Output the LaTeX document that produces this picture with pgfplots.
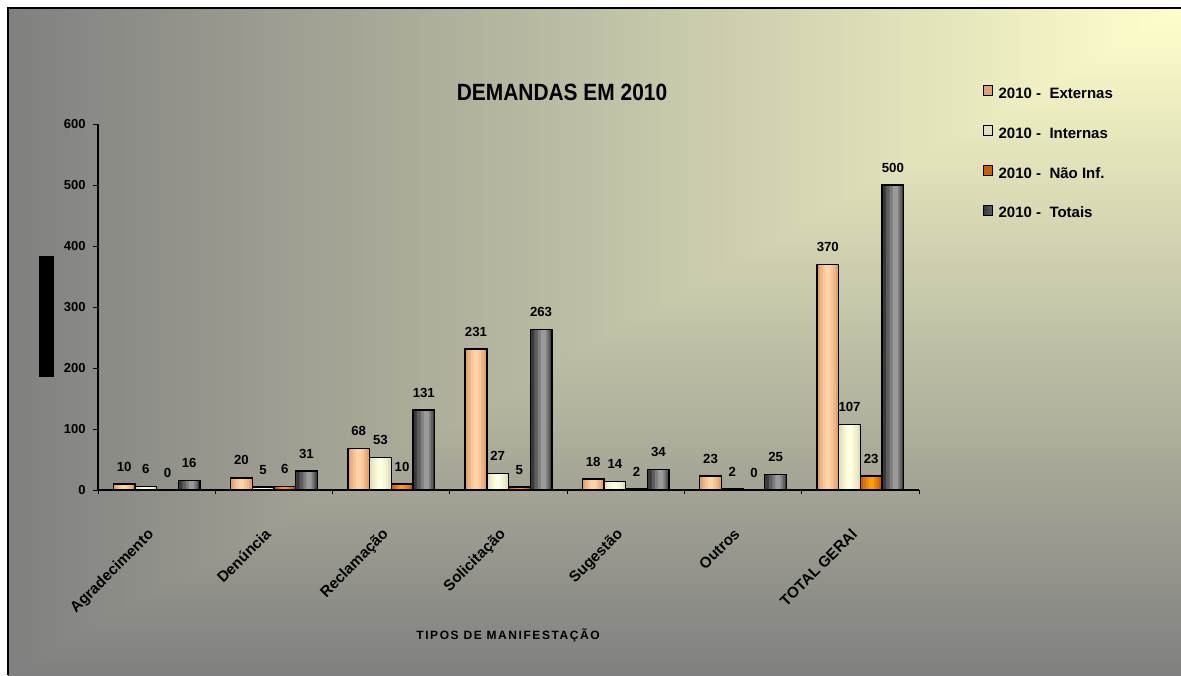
\documentclass[border=0pt]{standalone}
\usepackage{pgfplots}
\usepackage{pgfplotstable}
\pgfplotsset{compat=1.18}
\usepackage{fontspec}
\setmainfont{Liberation Sans}
\newfontfamily\titlefont{Liberation Sans}[FakeStretch=0.89]
\newfontfamily\spacedfont{Liberation Sans}[LetterSpace=13]
\definecolor{bgGray}{HTML}{808080}
\definecolor{bgLight}{HTML}{FFFFCC}
% Externas
\definecolor{extA}{HTML}{DDA272}
\definecolor{extB}{HTML}{EDB684}
\definecolor{extC}{HTML}{F9C796}
\definecolor{extD}{HTML}{FFD3A8}
% Internas
\definecolor{intA}{HTML}{E0E0BA}
\definecolor{intB}{HTML}{EEEECA}
\definecolor{intC}{HTML}{F8F8D8}
\definecolor{intD}{HTML}{FFFFE2}
% Nao Inf
\definecolor{naoA}{HTML}{C86000}
\definecolor{naoB}{HTML}{E07400}
\definecolor{naoC}{HTML}{F28800}
\definecolor{naoD}{HTML}{FF9A14}
% Totais
\definecolor{totA}{HTML}{3A3A3A}
\definecolor{totB}{HTML}{5E5E5E}
\definecolor{totC}{HTML}{7E7E7E}
\definecolor{totD}{HTML}{9A9A9A}

\pgfplotstableread{
x y
0 10
1 20
2 68
3 231
4 18
5 23
6 370
}\externas
\pgfplotstableread{
x y
0 6
1 5
2 53
3 27
4 14
5 2
6 107
}\internas
\pgfplotstableread{
x y
0 0
1 6
2 10
3 5
4 2
5 0
6 23
}\naoinf
\pgfplotstableread{
x y
0 16
1 31
2 131
3 263
4 34
5 25
6 500
}\totais

% #1 table, #2..#5 bar shifts of the layers, #6..#9 colours (edge -> centre)
\newcommand\shadedbars[9]{%
\addplot[ybar, forget plot, fill=#6, draw=none, bar width=10.85pt, bar shift=#2] table[x=x,y=y] {#1};
\addplot[ybar, forget plot, fill=#7, draw=none, bar width=8pt, bar shift=#3] table[x=x,y=y] {#1};
\addplot[ybar, forget plot, fill=#8, draw=none, bar width=5.2pt, bar shift=#4] table[x=x,y=y] {#1};
\addplot[ybar, forget plot, fill=#9, draw=none, bar width=2.6pt, bar shift=#5] table[x=x,y=y] {#1};
\addplot[ybar, forget plot, fill=none, draw=black, line width=0.7pt, bar width=10.85pt, bar shift=#2,
  nodes near coords, every node near coord/.append style={xshift=#2}] table[x=x,y=y] {#1};
}

\begin{document}
\begin{tikzpicture}
\path[use as bounding box] (0,0) rectangle (590.5pt,337.5pt);
\fill[white] (0,0) rectangle (590.5pt,337.5pt);
\shade[bottom color=bgGray, top color=bgLight] (4pt,0pt) rectangle (590.5pt,333.5pt);
\begin{scope}
\clip (4pt,333.5pt) -- (590.5pt,333.5pt) -- (4pt,0pt) -- cycle;
\shade[left color=bgGray, right color=bgLight] (4pt,0pt) rectangle (590.5pt,333.5pt);
\end{scope}
\draw[line width=1pt] (4pt,0pt) -- (4pt,333.5pt) -- (590.5pt,333.5pt);
\fill[black] (19.5pt,149pt) rectangle (27pt,209.5pt);
\begin{axis}[
  at={(49pt,92.5pt)}, anchor=south west,
  scale only axis, width=410.5pt, height=183pt,
  xmin=-0.5, xmax=6.5, ymin=0, ymax=600,
  axis lines=left, axis line style={-, line width=0.6pt},
  clip=false,
  ytick={0,100,...,600},
  xtick={0,...,6},
  xticklabels={Agradecimento,Denúncia,Reclamação,Solicitação,Sugestão,Outros,TOTAL GERAl},
  minor xtick={-0.5,0.5,1.5,2.5,3.5,4.5,5.5,6.5},
  major x tick style={draw=none},
  tick align=outside,
  major tick length=2.5pt, minor tick length=2.2pt,
  tick style={black, line width=0.5pt},
  yticklabel style={font=\bfseries\fontsize{6.5}{7}\selectfont, inner sep=0pt, xshift=-3.5pt},
  xticklabel style={font=\bfseries\fontsize{7.6}{9}\selectfont, xshift=-5pt, yshift=-16pt, rotate=45, anchor=north east, inner sep=0pt},
  /pgf/number format/assume math mode=true,
  every node near coord/.append style={font=\bfseries\fontsize{6.6}{7}\selectfont, inner sep=0pt, yshift=6pt, text=black, anchor=south},
  legend style={at={(1.078,1.108)}, anchor=north west, draw=none, fill=none, inner sep=0pt,
    font=\bfseries\fontsize{7.5}{9}\selectfont,
    nodes={inner sep=0pt, text height=6pt, text depth=1.5pt},
    row sep=11.75pt,
    /tikz/every odd column/.append style={column sep=2.8pt}},
  legend cell align=left,
]
\addlegendimage{legend image code/.code={\draw[line width=0.5pt, left color=extA, middle color=extD, right color=extA] (0pt,-0.8pt) rectangle (4.3pt,4.2pt);}}
\addlegendimage{legend image code/.code={\draw[line width=0.5pt, left color=intA, middle color=intD, right color=intA] (0pt,-0.8pt) rectangle (4.3pt,4.2pt);}}
\addlegendimage{legend image code/.code={\draw[line width=0.5pt, left color=naoA, middle color=naoD, right color=naoA] (0pt,-0.8pt) rectangle (4.3pt,4.2pt);}}
\addlegendimage{legend image code/.code={\draw[line width=0.5pt, left color=totA, middle color=totD, right color=totB] (0pt,-0.8pt) rectangle (4.3pt,4.2pt);}}
\shadedbars{\externas}{-16.275pt}{-16.275pt}{-16.275pt}{-16.275pt}{extA}{extB}{extC}{extD}
\shadedbars{\internas}{-5.425pt}{-5.425pt}{-5.425pt}{-5.425pt}{intA}{intB}{intC}{intD}
\shadedbars{\naoinf}{5.425pt}{5.425pt}{5.425pt}{5.425pt}{naoA}{naoB}{naoC}{naoD}
\shadedbars{\totais}{16.275pt}{16.875pt}{17.275pt}{17.5pt}{totA}{totB}{totC}{totD}
\legend{2010 -~~Externas, 2010 -~~Internas, 2010 -~~Não Inf., 2010 -~~Totais}
\end{axis}
\node[font=\titlefont\bfseries\fontsize{11.75}{13}\selectfont] at (281pt,291.5pt) {DEMANDAS EM 2010};
\node[font=\spacedfont\bfseries\fontsize{6}{7}\selectfont] at (254pt,20pt) {TIPOS DE MANIFESTAÇÃO};
\end{tikzpicture}
\end{document}
